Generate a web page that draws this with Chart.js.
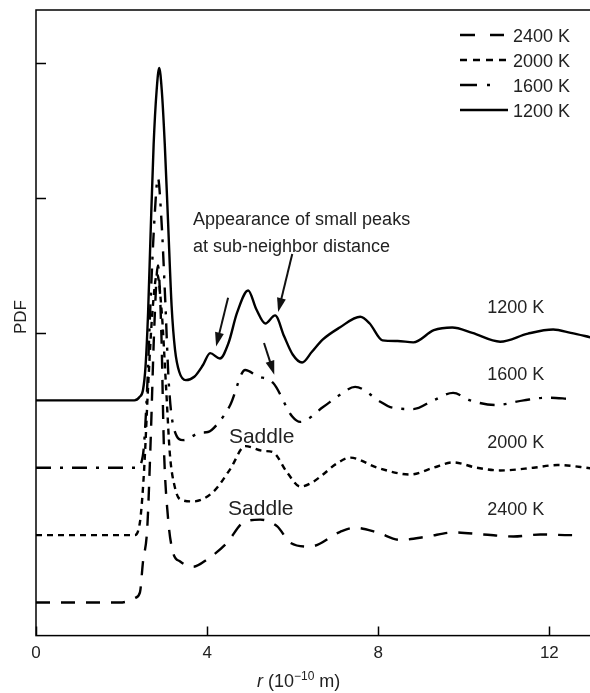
<!DOCTYPE html>
<html>
<head>
<meta charset="utf-8">
<script src="https://cdn.jsdelivr.net/npm/chart.js@4.4.0/dist/chart.umd.min.js"></script>
<style>
  html, body { margin: 0; padding: 0; background: #fff; }
  #wrap { width: 590px; height: 693px; }
</style>
</head>
<body>
<div id="wrap"><canvas id="pdf"></canvas></div>
<script>
// PDF curves, shifted up by one unit per temperature
const temps = ["1200 K", "1600 K", "2000 K", "2400 K"];
const offsets = [3, 2, 1, 0];

const r1200 = [0, 2.3, 2.42, 2.5, 2.56, 2.62, 2.68, 2.75, 2.82, 2.88, 2.94, 3.01, 3.09, 3.17, 3.25, 3.35, 3.5, 3.7, 3.9, 4.07, 4.3, 4.5, 4.7, 4.96, 5.15, 5.36, 5.59, 5.8, 6.0, 6.22, 6.45, 6.7, 7.1, 7.58, 7.8, 8.1, 8.45, 8.82, 9.3, 9.73, 10.2, 10.85, 11.5, 12.09, 12.5, 13];
const g1200 = [0, 0, 0.05, 0.15, 0.5, 1.3, 2.5, 3.8, 4.6, 4.93, 4.6, 3.8, 2.6, 1.4, 0.75, 0.42, 0.3, 0.35, 0.52, 0.7, 0.62, 0.85, 1.3, 1.63, 1.35, 1.14, 1.26, 0.95, 0.68, 0.56, 0.72, 0.9, 1.08, 1.24, 1.14, 0.89, 0.88, 0.86, 1.04, 1.08, 1.0, 0.87, 0.99, 1.05, 1.0, 0.93];

const r1600 = [0, 2.4, 2.45, 2.52, 2.6, 2.68, 2.77, 2.85, 2.93, 3.02, 3.1, 3.2, 3.44, 3.84, 4.02, 4.23, 4.54, 4.89, 5.17, 5.54, 5.99, 6.18, 6.71, 7.1, 7.46, 8.05, 8.28, 8.82, 9.29, 9.75, 10.15, 10.74, 11.4, 11.95, 12.49];
const g1600 = [0, 0, 0.05, 0.3, 1.2, 2.5, 3.7, 4.3, 3.7, 2.5, 1.3, 0.65, 0.41, 0.52, 0.53, 0.64, 0.93, 1.45, 1.36, 1.26, 0.76, 0.68, 0.9, 1.08, 1.2, 0.98, 0.9, 0.87, 1.0, 1.11, 1.0, 0.93, 1.0, 1.04, 1.02];

const r2000 = [0, 2.3, 2.38, 2.45, 2.53, 2.62, 2.72, 2.83, 2.94, 3.04, 3.13, 3.25, 3.37, 3.67, 4.14, 4.54, 4.89, 5.31, 5.54, 5.87, 6.18, 6.45, 6.71, 7.0, 7.35, 7.98, 8.75, 9.29, 9.75, 10.3, 10.85, 11.63, 12.19, 13];
const g2000 = [0, 0, 0.05, 0.3, 1.0, 2.2, 3.3, 3.87, 3.3, 2.2, 1.2, 0.7, 0.53, 0.5, 0.64, 0.98, 1.32, 1.25, 1.23, 0.93, 0.72, 0.78, 0.9, 1.05, 1.15, 1.0, 0.9, 1.0, 1.08, 1.0, 0.96, 1.0, 1.04, 0.99];

const r2400 = [0, 1.96, 2.15, 2.32, 2.43, 2.5, 2.6, 2.68, 2.76, 2.85, 2.93, 2.99, 3.08, 3.2, 3.37, 3.67, 4.0, 4.47, 4.85, 5.24, 5.64, 5.94, 6.4, 7.11, 7.46, 7.98, 8.51, 9.15, 9.75, 10.46, 11.16, 11.79, 12.49, 12.66];
const g2400 = [0, 0, 0.02, 0.07, 0.15, 0.6, 1.1, 2.4, 4.0, 5.0, 4.0, 2.3, 1.3, 0.75, 0.61, 0.53, 0.64, 0.89, 1.19, 1.23, 1.13, 0.89, 0.83, 1.05, 1.11, 1.04, 0.93, 0.98, 1.04, 1.01, 0.98, 1.01, 1.0, 1.0];

const xTicks = [0, 4, 8, 12];
const yTicks = [4, 6, 8];

const rs = [r1200, r1600, r2000, r2400];
const gs = [g1200, g1600, g2000, g2400];
const dashes = [[], [15, 9, 3, 9], [6, 5], [14, 11]];

const notes = [
  { text: "Appearance of small peaks", x: 3.67, y: 5.6, size: 18 },
  { text: "at sub-neighbor distance", x: 3.67, y: 5.2, size: 18 },
  { text: "1200 K", x: 10.55, y: 4.3, size: 18 },
  { text: "1600 K", x: 10.55, y: 3.3, size: 18 },
  { text: "2000 K", x: 10.55, y: 2.3, size: 18 },
  { text: "2400 K", x: 10.55, y: 1.3, size: 18 },
  { text: "Saddle", x: 4.51, y: 2.37, size: 21 },
  { text: "Saddle", x: 4.49, y: 1.3, size: 21 }
];
const arrows = [
  { from: [4.49, 4.52], to: [4.21, 3.8] },
  { from: [5.99, 5.17], to: [5.66, 4.31] },
  { from: [5.33, 3.85], to: [5.57, 3.38] }
];

const FONT = '"Liberation Sans", Arial, sans-serif';
const INK = "#222";

const datasets = temps.map((t, i) => ({
  label: t,
  data: rs[i].map((r, k) => ({ x: r, y: gs[i][k] + offsets[i] })),
  borderColor: "#000",
  borderWidth: 2.4,
  borderDash: dashes[i],
  pointRadius: 0,
  fill: false,
  cubicInterpolationMode: "monotone"
}));

function arrow(ctx, x1, y1, x2, y2) {
  const a = Math.atan2(y2 - y1, x2 - x1), L = 14, W = 4.5;
  const c = Math.cos(a), s = Math.sin(a);
  ctx.beginPath();
  ctx.moveTo(x1, y1);
  ctx.lineTo(x2 - L * 0.7 * c, y2 - L * 0.7 * s);
  ctx.stroke();
  ctx.beginPath();
  ctx.moveTo(x2, y2);
  ctx.lineTo(x2 - L * c + W * s, y2 - L * s - W * c);
  ctx.lineTo(x2 - L * c - W * s, y2 - L * s + W * c);
  ctx.closePath();
  ctx.fill();
}

const extras = {
  id: "extras",
  afterDraw(chart) {
    const { ctx, chartArea: a, scales: { x, y } } = chart;
    ctx.save();
    // frame
    ctx.strokeStyle = "#000";
    ctx.lineWidth = 1.5;
    ctx.setLineDash([]);
    ctx.strokeRect(a.left, a.top, a.right - a.left + 2, a.bottom - a.top);
    // inward ticks
    ctx.beginPath();
    xTicks.forEach(v => {
      const px = Math.round(x.getPixelForValue(v)) + 0.5;
      ctx.moveTo(px, a.bottom); ctx.lineTo(px, a.bottom - 9);
    });
    yTicks.forEach(v => {
      const py = Math.round(y.getPixelForValue(v)) + 0.5;
      ctx.moveTo(a.left, py); ctx.lineTo(a.left + 10, py);
    });
    ctx.stroke();

    // notes
    ctx.fillStyle = INK;
    ctx.textBaseline = "alphabetic";
    ctx.textAlign = "left";
    notes.forEach(n => {
      ctx.font = n.size + "px " + FONT;
      ctx.fillText(n.text, x.getPixelForValue(n.x), y.getPixelForValue(n.y));
    });
    // arrows
    ctx.strokeStyle = "#111";
    ctx.fillStyle = "#111";
    ctx.lineWidth = 2;
    arrows.forEach(ar => {
      arrow(ctx, x.getPixelForValue(ar.from[0]), y.getPixelForValue(ar.from[1]),
        x.getPixelForValue(ar.to[0]), y.getPixelForValue(ar.to[1]));
    });

    // legend, 2400 K on top
    const lens = [48, 30, 48, 44];
    [3, 2, 1, 0].forEach((i, row) => {
      const ly = 35 + row * 25;
      ctx.strokeStyle = "#000";
      ctx.lineWidth = 2.6;
      ctx.setLineDash(i === 1 ? [17, 10, 3, 10] : i === 3 ? [15, 15] : i === 2 ? [7, 6] : []);
      ctx.beginPath();
      ctx.moveTo(460, ly); ctx.lineTo(460 + lens[i], ly);
      ctx.stroke();
      ctx.setLineDash([]);
      ctx.fillStyle = INK;
      ctx.font = "18px " + FONT;
      ctx.fillText(temps[i], 513, ly + 7);
    });

    // axis titles
    ctx.fillStyle = INK;
    let tx = 257;
    const ty = 687;
    const parts = [
      ["italic 18px ", "r", 0], ["18px ", " (10", 0], ["12px ", "\u221210", -7], ["18px ", " m)", 0]
    ];
    parts.forEach(p => {
      ctx.font = p[0] + FONT;
      ctx.fillText(p[1], tx, ty + p[2]);
      tx += ctx.measureText(p[1]).width;
    });
    ctx.save();
    ctx.translate(21, 317);
    ctx.rotate(-Math.PI / 2);
    ctx.textAlign = "center";
    ctx.textBaseline = "middle";
    ctx.font = "17px " + FONT;
    ctx.fillText("PDF", 0, 0);
    ctx.restore();
    ctx.restore();
  }
};

new Chart(document.getElementById("pdf"), {
  type: "line",
  data: { datasets: datasets },
  options: {
    responsive: true,
    maintainAspectRatio: false,
    animation: false,
    devicePixelRatio: 1,
    layout: { padding: { left: 36, top: 10, right: 0, bottom: 21 } },
    plugins: { legend: { display: false }, tooltip: { enabled: false } },
    scales: {
      x: {
        type: "linear",
        min: 0,
        max: 12.95,
        afterBuildTicks: s => { s.ticks = xTicks.map(v => ({ value: v })); },
        ticks: { font: { size: 17, family: FONT }, color: INK, padding: 8, maxRotation: 0 },
        grid: { display: false, drawTicks: false },
        border: { display: false }
      },
      y: {
        display: false,
        min: -0.49,
        max: 8.79
      }
    }
  },
  plugins: [extras]
});
</script>
</body>
</html>
